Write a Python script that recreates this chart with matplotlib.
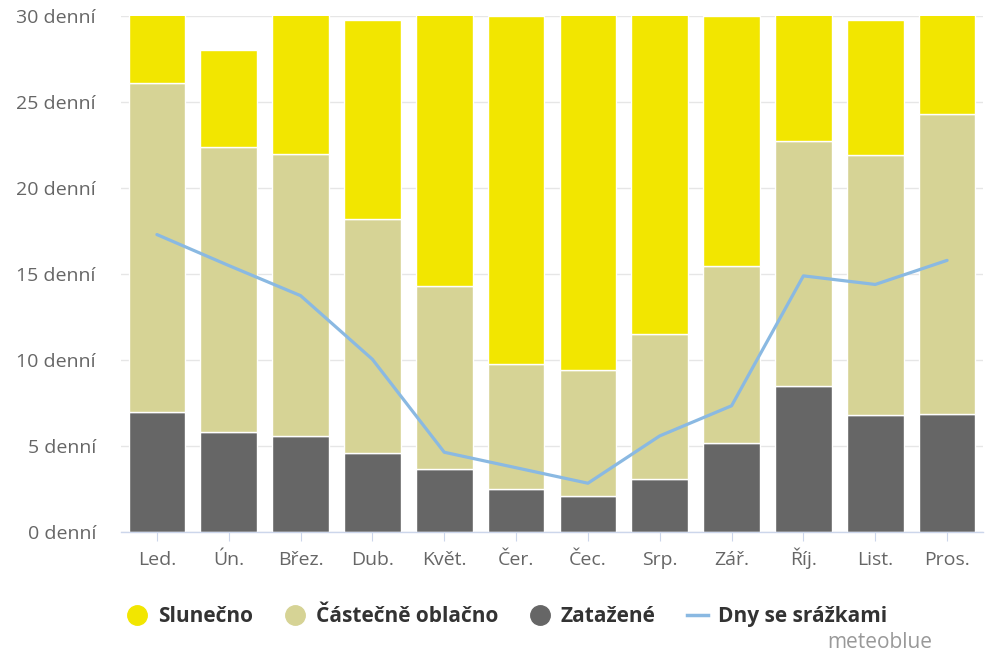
import matplotlib
matplotlib.use("Agg")
import matplotlib.pyplot as plt
from matplotlib.lines import Line2D
import numpy as np

months = ["Led.", "Ún.", "Břez.", "Dub.", "Květ.", "Čer.", "Čec.", "Srp.", "Zář.", "Říj.", "List.", "Pros."]
overcast = [7.0, 5.8, 5.6, 4.6, 3.7, 2.5, 2.1, 3.1, 5.2, 8.5, 6.8, 6.9]
partly = [19.1, 16.6, 16.4, 13.6, 10.6, 7.25, 7.35, 8.4, 10.3, 14.25, 15.1, 17.4]
sunny = [4.9, 5.6, 9.0, 11.55, 16.7, 20.25, 21.55, 19.5, 14.5, 8.25, 7.85, 6.7]
precip_days = [17.3, 15.5, 13.75, 10.05, 4.65, 3.75, 2.85, 5.6, 7.35, 14.9, 14.4, 15.8]
yticks = [0, 5, 10, 15, 20, 25, 30]
ytick_labels = [f"{v} denní" for v in yticks]

c_sun = "#f2e600"
c_part = "#d6d395"
c_over = "#666666"
c_line = "#8ab9e2"

plt.rcParams['font.family'] = ['Open Sans', 'DejaVu Sans']

fig = plt.figure(figsize=(10, 6.67), dpi=100)
ax = fig.add_axes([0.121, 1 - 0.798, 0.862, 0.774])

x = np.arange(len(months))
w = 0.79
ov = np.array(overcast)
pa = np.array(partly)
su = np.array(sunny)
ax.bar(x, ov, width=w, color=c_over, edgecolor="white", linewidth=1, zorder=2)
ax.bar(x, pa, width=w, bottom=ov, color=c_part, edgecolor="white", linewidth=1, zorder=2)
ax.bar(x, su, width=w, bottom=ov + pa, color=c_sun, edgecolor="white", linewidth=1, zorder=2)
ax.plot(x, precip_days, color=c_line, linewidth=2.3, zorder=3, solid_capstyle="round")

ax.set_xlim(-0.5, len(months) - 0.5)
ax.set_ylim(0, 30)
ax.set_yticks(yticks)
ax.set_yticklabels(ytick_labels)
ax.set_xticks(x)
ax.set_xticklabels(months)
ax.grid(axis="y", color="#e6e6e6", linewidth=1, zorder=0)
ax.set_axisbelow(True)
for s in ["top", "right", "left"]:
    ax.spines[s].set_visible(False)
ax.spines["bottom"].set_color("#ccd6eb")
ax.spines["bottom"].set_linewidth(1)
ax.tick_params(axis="y", length=0, pad=18, labelsize=14, labelcolor="#666666")
ax.tick_params(axis="x", length=6.5, color="#ccd6eb", pad=17, labelsize=14, labelcolor="#666666")
for lab in ax.get_xticklabels():
    lab.set_verticalalignment("baseline")

handles = [
    Line2D([], [], marker="o", linestyle="none", markersize=14, color=c_sun),
    Line2D([], [], marker="o", linestyle="none", markersize=14, color=c_part),
    Line2D([], [], marker="o", linestyle="none", markersize=14, color=c_over),
    Line2D([], [], color=c_line, linewidth=2.5),
]
labels = ["Slunečno", "Částečně oblačno", "Zatažené", "Dny se srážkami"]
fig.legend(handles, labels, loc="center", bbox_to_anchor=(0.507, 0.076), ncol=4,
           frameon=False, prop={"size": 15, "weight": "bold"}, labelcolor="#333333",
           handlelength=1.0, handletextpad=0.5, columnspacing=1.5)

fig.text(0.932, 0.036, "meteoblue", ha="right", va="center", fontsize=15, color="#999999")

fig.savefig("out.png", dpi=100)
